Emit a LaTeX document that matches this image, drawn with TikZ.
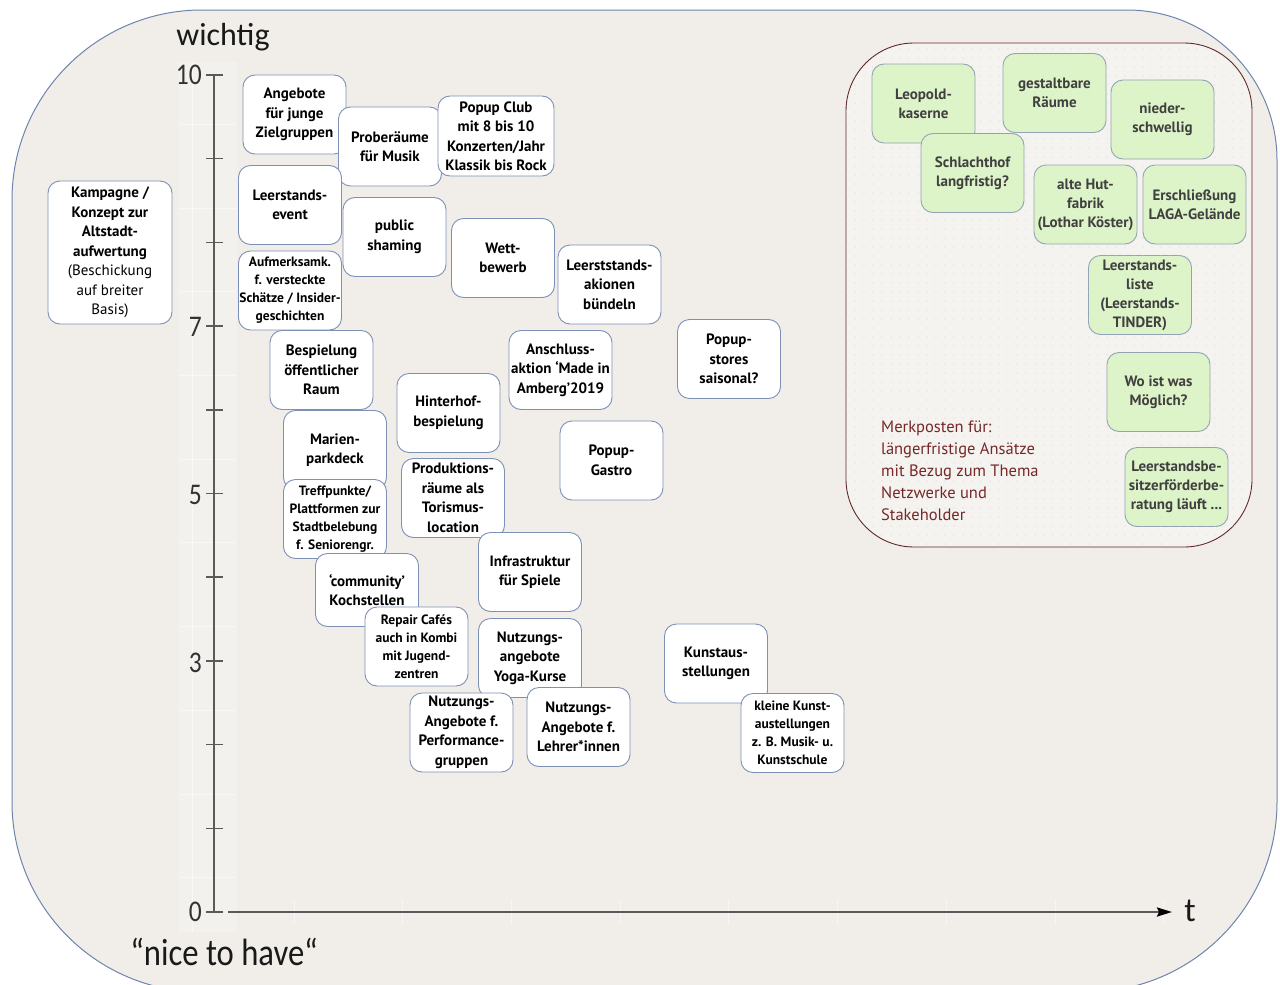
\documentclass[tikz,border=0pt]{standalone}
\usepackage{fontspec}
\setmainfont{PT Sans}
\newfontfamily\headfont{Carlito}
\newfontfamily\numfont[FakeStretch=0.85]{Carlito}
\newfontfamily\quotefont[FakeStretch=0.86]{Carlito}
\usetikzlibrary{arrows.meta,patterns.meta}

\definecolor{bg}{HTML}{F1EEEA}
\definecolor{outline}{HTML}{6E84AE}
\definecolor{cardline}{HTML}{7D90B6}
\definecolor{frameline}{HTML}{5E2A2A}
\definecolor{notetext}{HTML}{752828}
\definecolor{leaf}{HTML}{DDF3C8}
\definecolor{leafline}{HTML}{92A4B4}
\definecolor{axis}{HTML}{5A5A5A}

\tikzset{
  card/.style={draw=cardline, fill=white, rounded corners=12pt, line width=0.9pt,
    minimum width=103pt, minimum height=79pt, inner sep=0pt, align=center,
    font=\fontsize{15}{19.5}\selectfont\bfseries, text=black},
  smallcard/.style={card, font=\fontsize{13.5}{18}\selectfont\bfseries},
  leafcard/.style={card, draw=leafline, fill=leaf,
    postaction={pattern={Dots[distance=9pt,radius=0.6pt]}, pattern color=black!12},
    font=\fontsize{15}{19}\selectfont\bfseries, text=black!75},
  ticklabel/.style={anchor=east, inner sep=0pt, text=black!80, font=\numfont\fontsize{30}{30}\selectfont},
  faint/.style={draw=white, line width=0.8pt, opacity=0.5}
}

\begin{document}
\begin{tikzpicture}[x=1pt, y=-1pt]
\useasboundingbox (0,0) rectangle (1280,985);

% outer rounded panel
\draw[fill=bg, draw=outline, line width=1pt]
  (12,500) [rounded corners=190pt]-- (12,10) [rounded corners=150pt]-- (1277,10)
  [rounded corners=190pt]-- (1277,992) -- (12,992) -- (12,500);

% light bands behind the axes
\fill[white, opacity=0.2] (178,62) rectangle (237,932);
\draw[faint] (192,62) -- (192,932);
\foreach \v in {0,...,9} \draw[faint] (180,{912-83.7*(\v+0.41)}) -- (236,{912-83.7*(\v+0.41)});
\foreach \k in {0,...,8} \draw[faint] ({294+108.7*\k},900) -- ({294+108.7*\k},924);

% axes
\coordinate (ytop) at (214,75);
\coordinate (ybot) at (214,912);
\coordinate (xstart) at (228,912);
\coordinate (xend) at (1172,912);
\draw[axis, line width=1.2pt] (ytop) -- (ybot);
\foreach \v in {0,...,10} \draw[axis, line width=1.5pt] (206,{912-83.7*\v}) -- (223,{912-83.7*\v});
\draw[axis, line width=2.4pt, -{Stealth[length=15pt,width=9pt,inset=2pt,black]}] (xstart) -- (xend);

\node[ticklabel] (l10) at (202,75) {10};
\node[ticklabel] (l7) at (202,327) {7};
\node[ticklabel] (l5) at (202,495) {5};
\node[ticklabel] (l3) at (202,663) {3};
\node[ticklabel] (l0) at (202,912) {0};
\node[font=\headfont\fontsize{32}{32}\selectfont, text=black!90] (wichtig) at (223,37) {wichtig};
\node[font=\quotefont\fontsize{38}{38}\selectfont, text=black!90] (nice) at (224,952) {“nice to have“};
\node[font=\headfont\fontsize{34}{34}\selectfont, text=black!90] (t) at (1190,911) {t};

% cards on the importance scale
\node[card, minimum width=124pt, minimum height=143pt] (kampagne) at (110,252.5)
  {Kampagne /\\Konzept zur\\Altstadt-\\aufwertung\\\mdseries(Beschickung\\\mdseries auf breiter\\\mdseries Basis)};
\node[card] (angebote) at (294.5,114.5) {Angebote\\für junge\\Zielgruppen};
\node[card] (probe) at (390,146.5) {Proberäume\\für Musik};
\node[card, minimum width=116pt, minimum height=80pt] (club) at (496,136)
  {Popup Club\\mit 8 bis 10\\Konzerten/Jahr\\Klassik bis Rock};
\node[card] (leerevent) at (290,205) {Leerstands-\\event};
\node[card] (shaming) at (394.5,237) {public\\shaming};
\node[smallcard] (aufmerk) at (290,290.5) {Aufmerksamk.\\f. versteckte\\Schätze / Insider-\\geschichten};
\node[card] (wett) at (503,258) {Wett-\\bewerb};
\node[card] (leerakt) at (609.5,284.5) {Leerststands-\\akionen\\bündeln};
\node[card] (bespiel) at (321.5,370) {Bespielung\\öffentlicher\\Raum};
\node[card] (anschluss) at (560.5,370) {Anschluss-\\aktion ‘Made in\\Amberg’2019};
\node[card] (stores) at (729,359) {Popup-\\stores\\saisonal?};
\node[card] (hinterhof) at (448.5,413) {Hinterhof-\\bespielung};
\node[card] (marien) at (335,450) {Marien-\\parkdeck};
\node[card] (gastro) at (611.5,460.5) {Popup-\\Gastro};
\node[card] (produktion) at (453,498) {Produktions-\\räume als\\Torismus-\\location};
\node[smallcard] (treff) at (335,519) {Treffpunkte/\\Plattformen zur\\Stadtbelebung\\f. Seniorengr.};
\node[card, minimum height=73pt] (community) at (367,590) {‘community’\\Kochstellen};
\node[card] (infra) at (530,572) {Infrastruktur\\für Spiele};
\node[smallcard] (repair) at (416.5,646.5) {Repair Cafés\\auch in Kombi\\mit Jugend-\\zentren};
\node[card] (yoga) at (530,658) {Nutzungs-\\angebote\\Yoga-Kurse};
\node[card] (kunst) at (716,663.5) {Kunstaus-\\stellungen};
\node[card] (perform) at (461.5,732.5) {Nutzungs-\\Angebote f.\\Performance-\\gruppen};
\node[card] (lehrer) at (578.5,727) {Nutzungs-\\Angebote f.\\Lehrer*innen};
\node[smallcard] (kleine) at (792.5,733) {kleine Kunst-\\austellungen\\z. B. Musik- u.\\Kunstschule};

% reminder panel for longer-term approaches
\draw[fill=bg!70!white, draw=frameline, line width=0.9pt, rounded corners=68pt,
  postaction={pattern={Dots[distance=9pt,radius=0.65pt]}, pattern color=black!16}]
  (846,43) rectangle (1252,547);

\node[leafcard] (leopold) at (923.5,103.5) {Leopold-\\kaserne};
\node[leafcard] (gestalt) at (1054.5,93) {gestaltbare\\Räume};
\node[leafcard] (nieder) at (1162.5,119.5) {nieder-\\schwellig};
\node[leafcard] (schlacht) at (972.5,173) {Schlachthof\\langfristig?};
\node[leafcard] (hut) at (1085.5,204.5) {alte Hut-\\fabrik\\(Lothar Köster)};
\node[leafcard] (laga) at (1194.5,204.5) {Erschließung\\LAGA-Gelände};
\node[leafcard] (liste) at (1140,295) {Leerstands-\\liste\\(Leerstands-\\TINDER)};
\node[leafcard] (wo) at (1158.5,392) {Wo ist was\\Möglich?};
\node[leafcard] (berat) at (1176.5,487) {Leerstandsbe-\\sitzerförderbe-\\ratung läuft ...};

\node[anchor=west, align=left, inner sep=0pt, text=notetext,
  font=\fontsize{16.5}{22}\selectfont] (merk) at (881,471)
  {Merkposten für:\\längerfristige Ansätze\\mit Bezug zum Thema\\Netzwerke und\\Stakeholder};
\end{tikzpicture}
\end{document}
